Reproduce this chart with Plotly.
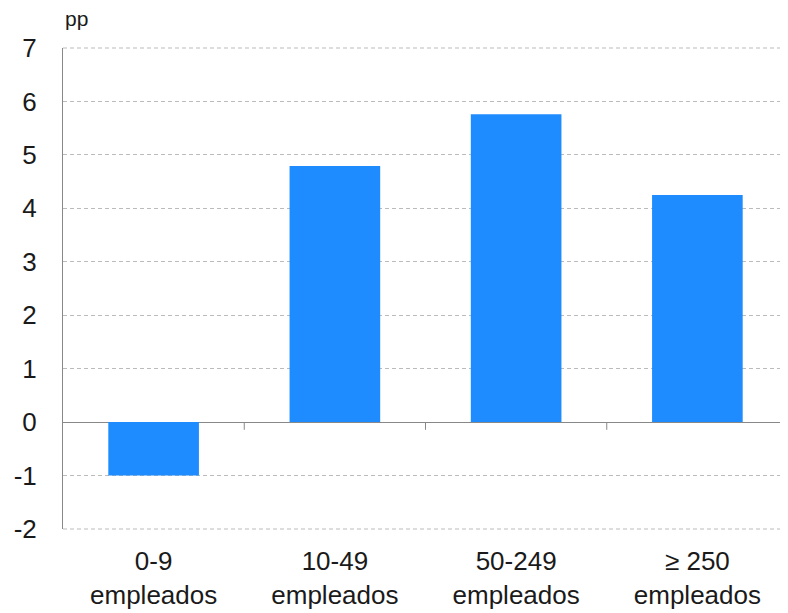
import plotly.graph_objects as go

categories = ["0-9<br>empleados", "10-49<br>empleados", "50-249<br>empleados", "≥ 250<br>empleados"]
values = [-1.0, 4.79, 5.76, 4.25]
y_ticks = [-2, -1, 0, 1, 2, 3, 4, 5, 6, 7]
y_ticktext = [str(v) for v in y_ticks]

FONT = "Liberation Sans, Arial, sans-serif"
TXT = "#1a1a1a"
GRID = "#BBBBBB"
DASH = "4px,3px"

fig = go.Figure()
fig.add_trace(go.Bar(
    x=list(range(len(categories))), y=values,
    marker=dict(color="#1E8CFF", line=dict(width=0)),
    width=0.5,
))

y_lo, y_hi = y_ticks[0], y_ticks[-1]
zero_frac = (0 - y_lo) / (y_hi - y_lo)
shapes = []
for i in range(1, len(categories)):
    shapes.append(dict(type="line", xref="x", yref="paper",
                       x0=i - 0.5, x1=i - 0.5,
                       y0=zero_frac, y1=zero_frac - 0.016,
                       line=dict(color="#888888", width=1)))
# gridlines at the range ends (plotly hides them at the plot edges)
for yp in (0, 1):
    shapes.append(dict(type="line", xref="paper", yref="paper",
                       x0=0, x1=1, y0=yp, y1=yp, layer="below",
                       line=dict(color=GRID, width=1, dash=DASH)))

fig.update_layout(
    width=780, height=605,
    margin=dict(l=55, r=0, t=40, b=84),
    plot_bgcolor="white", paper_bgcolor="white",
    showlegend=False,
    font=dict(family=FONT, color=TXT, size=26),
    shapes=shapes,
    annotations=[dict(text="pp", xref="paper", yref="paper", x=0.0, y=1.0,
                      xanchor="left", yanchor="middle", xshift=0, yshift=30,
                      showarrow=False, font=dict(size=21, family=FONT, color=TXT))],
)
fig.update_xaxes(
    tickvals=list(range(len(categories))), ticktext=categories,
    range=[-0.5, len(categories) - 0.5],
    showgrid=False, zeroline=False, showline=False, ticks="",
    tickfont=dict(size=26, family=FONT, color=TXT),
    ticklabelstandoff=14, automargin=False,
)
fig.update_yaxes(
    range=[y_lo, y_hi], tickvals=y_ticks, ticktext=y_ticktext,
    showgrid=True, gridcolor=GRID, griddash=DASH, gridwidth=1,
    zeroline=True, zerolinecolor="#888888", zerolinewidth=1,
    showline=True, linecolor="#888888", linewidth=1,
    ticks="", tickfont=dict(size=26, family=FONT, color=TXT),
    ticklabelstandoff=20, automargin=False,
)

fig.write_html("out.html")
